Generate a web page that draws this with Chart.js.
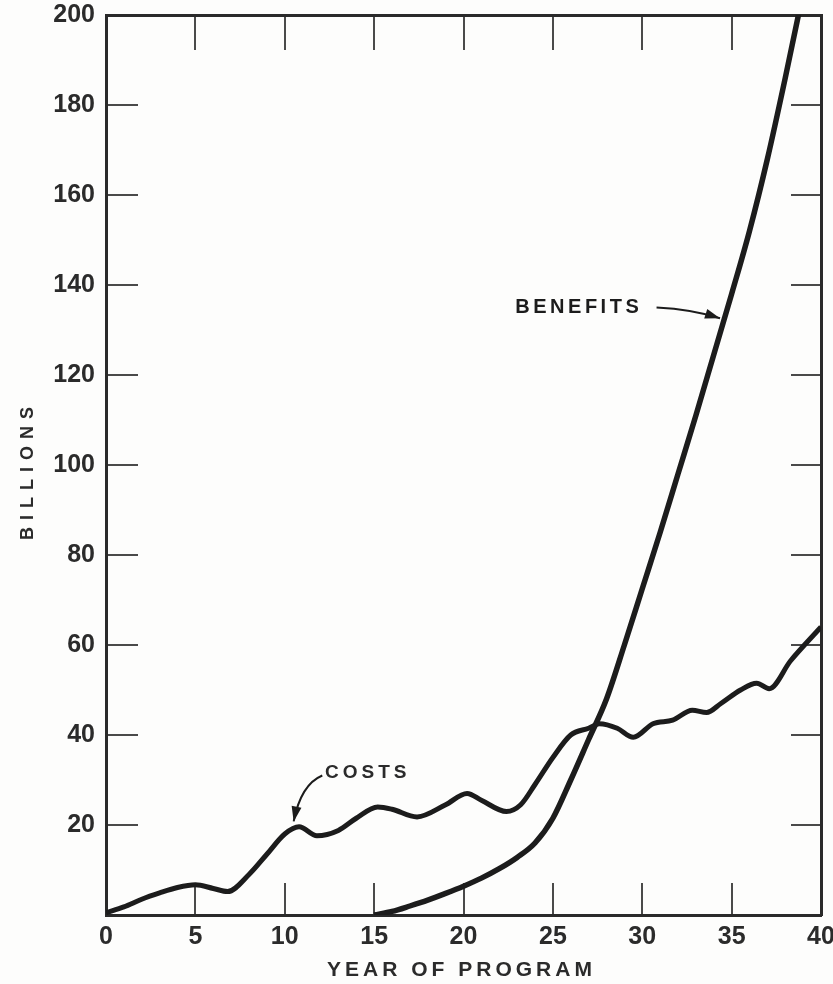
<!DOCTYPE html>
<html lang="en">

<head>
    <meta charset="UTF-8">
    <title>Costs and Benefits by Year of Program</title>
    <script src="https://cdn.jsdelivr.net/npm/chart.js@4.4.1/dist/chart.umd.min.js"></script>
    <style>
        html, body {
            margin: 0;
            padding: 0;
            background: #fdfdfc;
            overflow: hidden;
        }
        canvas {
            display: block;
        }
    </style>
</head>

<body>
    <canvas id="costChart" width="833" height="984"></canvas>
    <script>
        // Costs curve (billions)
        const costYears = [0, 1, 2, 3, 4, 5, 6, 6.8, 8, 9, 10, 10.8, 11.8, 13, 14, 15.2, 16, 17.4, 19, 20.2,
            21, 22.4, 23.2, 24, 25, 26, 27, 27.6, 28.6, 29.5, 30.6, 31.7, 32.8, 33.6, 34.4, 35.5, 36.4, 37.1, 38.3, 40];
        const costValues = [0.5, 1.8, 3.5, 4.9, 6.1, 6.7, 5.9, 5.2, 9, 13.5, 18, 19.6, 17.6, 18.8, 21.5, 24, 23.5, 21.8, 24.5, 27,
            25.5, 23, 24.5, 29, 35, 40, 41.5, 42.5, 41.5, 39.5, 42.5, 43.3, 45.5, 45, 47, 50, 51.5, 50.3, 56.5, 64];

        // Benefits curve (billions)
        const benefitYears = [15, 16, 17, 18, 19, 20, 21, 22, 23, 24, 25, 26, 27, 28, 29, 30, 31, 32, 33, 34, 35, 36, 37, 38, 39];
        const benefitValues = [0, 0.8, 2, 3.3, 4.8, 6.4, 8.2, 10.3, 12.8, 16, 21.5, 30, 39, 48, 60, 72.5, 85, 98, 111, 124.5,
            138, 152, 168, 186, 205];

        // Axis ranges
        const yearRange = [0, 40];
        const yearStep = 5;
        const billionRange = [0, 200];
        const billionStep = 20;

        const xTitle = 'YEAR OF PROGRAM';
        const yTitle = 'BILLIONS';
        const costLabel = 'COSTS';
        const benefitLabel = 'BENEFITS';

        const ink = '#1c1c1c';
        const textInk = '#2b2b2b';
        const fontFamily = '"Liberation Sans", Arial, Helvetica, sans-serif';

        const toPoints = (xs, ys) => xs.map((x, i) => ({ x: x, y: ys[i] }));

        // draws the axis titles and the two labelled arrows
        const notesPlugin = {
            id: 'notes',
            afterDatasetsDraw(chart) {
                const { ctx, chartArea } = chart;
                const xs = chart.scales.x;
                const ys = chart.scales.y;
                const px = v => xs.getPixelForValue(v);
                const py = v => ys.getPixelForValue(v);

                ctx.save();
                ctx.fillStyle = textInk;
                ctx.strokeStyle = ink;
                ctx.textBaseline = 'middle';

                // axis titles
                ctx.font = 'bold 21px ' + fontFamily;
                ctx.letterSpacing = '4px';
                ctx.textAlign = 'center';
                ctx.fillText(xTitle, (chartArea.left + chartArea.right) / 2 - 2, 970);

                ctx.save();
                ctx.translate(28, (chartArea.top + chartArea.bottom) / 2 + 8);
                ctx.rotate(-Math.PI / 2);
                ctx.font = 'bold 18px ' + fontFamily;
                ctx.letterSpacing = '7px';
                ctx.fillText(yTitle, 3, 0);
                ctx.restore();

                // COSTS label and arrow
                ctx.font = 'bold 19px ' + fontFamily;
                ctx.letterSpacing = '4px';
                ctx.textAlign = 'left';
                ctx.fillText(costLabel, px(12.25), py(31.5));
                drawArrow(ctx, px(12.1), py(31), px(10.9), py(29), px(10.5), py(20.8));

                // BENEFITS label and arrow
                ctx.font = 'bold 20px ' + fontFamily;
                ctx.letterSpacing = '3.5px';
                ctx.fillText(benefitLabel, px(22.9), py(135));
                drawArrow(ctx, px(30.8), py(135), px(32.8), py(134.6), px(34.35), py(132.6));

                ctx.restore();
            }
        };

        function drawArrow(ctx, x0, y0, cx, cy, x1, y1) {
            ctx.lineWidth = 2;
            ctx.beginPath();
            ctx.moveTo(x0, y0);
            ctx.quadraticCurveTo(cx, cy, x1, y1);
            ctx.stroke();
            const ang = Math.atan2(y1 - cy, x1 - cx);
            const len = 15, half = 5;
            ctx.beginPath();
            ctx.moveTo(x1, y1);
            ctx.lineTo(x1 - len * Math.cos(ang) + half * Math.sin(ang), y1 - len * Math.sin(ang) - half * Math.cos(ang));
            ctx.lineTo(x1 - len * Math.cos(ang) - half * Math.sin(ang), y1 - len * Math.sin(ang) + half * Math.cos(ang));
            ctx.closePath();
            ctx.fillStyle = ink;
            ctx.fill();
        }

        const tickFont = { family: fontFamily, size: 25, weight: 'bold' };

        // every side gets an axis with its tick marks pointing into the plot
        const sideAxis = (position, size, tickLength, extra) => Object.assign({
            position: position,
            border: { display: true, color: '#2a2a2a', width: 3 },
            grid: {
                drawOnChartArea: false,
                drawTicks: true,
                tickLength: tickLength,
                color: '#4a4a4a',
                lineWidth: 2
            },
            afterFit(scale) {
                if (scale.isHorizontal()) {
                    scale.height = size;
                } else {
                    scale.width = size;
                }
                // labels may hang past the plot edges; don't shrink the plot for them
                scale.paddingLeft = 0;
                scale.paddingRight = 0;
                scale.paddingTop = 0;
                scale.paddingBottom = 0;
            }
        }, extra);

        const config = {
            type: 'line',
            data: {
                datasets: [
                    {
                        label: costLabel,
                        data: toPoints(costYears, costValues),
                        borderColor: ink,
                        borderWidth: 5,
                        pointRadius: 0,
                        cubicInterpolationMode: 'monotone',
                        fill: false
                    },
                    {
                        label: benefitLabel,
                        data: toPoints(benefitYears, benefitValues),
                        borderColor: ink,
                        borderWidth: 5.5,
                        pointRadius: 0,
                        cubicInterpolationMode: 'monotone',
                        fill: false
                    }
                ]
            },
            options: {
                responsive: false,
                animation: false,
                layout: { padding: 0 },
                plugins: {
                    legend: { display: false },
                    tooltip: { enabled: false }
                },
                scales: {
                    x: sideAxis('bottom', 69, -32, {
                        type: 'linear',
                        min: yearRange[0],
                        max: yearRange[1],
                        ticks: {
                            stepSize: yearStep,
                            padding: 39,
                            color: textInk,
                            font: tickFont,
                            maxRotation: 0
                        }
                    }),
                    x2: sideAxis('top', 15, -35, {
                        type: 'linear',
                        min: yearRange[0],
                        max: yearRange[1],
                        ticks: { stepSize: yearStep, padding: 0, callback: () => '' }
                    }),
                    y: sideAxis('left', 106, -32, {
                        type: 'linear',
                        min: billionRange[0],
                        max: billionRange[1],
                        ticks: {
                            stepSize: billionStep,
                            padding: 43,
                            color: textInk,
                            font: tickFont,
                            callback: v => (v === 0 ? '' : v)
                        }
                    }),
                    y2: sideAxis('right', 12, -30, {
                        type: 'linear',
                        min: billionRange[0],
                        max: billionRange[1],
                        ticks: { stepSize: billionStep, padding: 0, callback: () => '' }
                    })
                }
            },
            plugins: [notesPlugin]
        };

        const ctx = document.getElementById('costChart').getContext('2d');
        const costChart = new Chart(ctx, config);
    </script>
</body>

</html>
